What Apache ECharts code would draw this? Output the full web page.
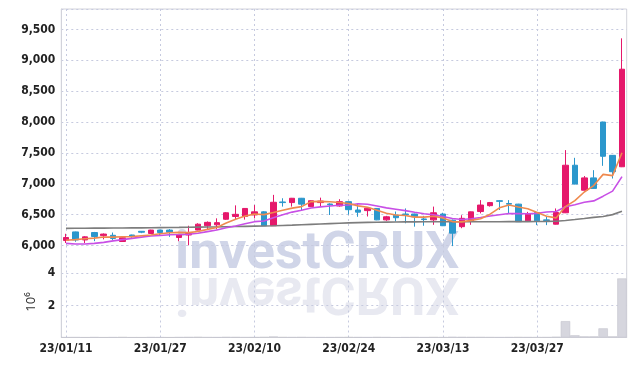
<!DOCTYPE html>
<html>
<head>
<meta charset="utf-8">
<script src="https://cdn.jsdelivr.net/npm/echarts@6/dist/echarts.min.js"></script>
<style>
html,body{margin:0;padding:0;background:#fff}
#chart{width:635px;height:366px}
</style>
</head>
<body>
<div id="chart"></div>
<script>
// trading days
var dates = ['23/01/11','23/01/12','23/01/13','23/01/16','23/01/17','23/01/18','23/01/19','23/01/20','23/01/25','23/01/26',
  '23/01/27','23/01/30','23/01/31','23/02/01','23/02/02','23/02/03','23/02/06','23/02/07','23/02/08','23/02/09',
  '23/02/10','23/02/13','23/02/14','23/02/15','23/02/16','23/02/17','23/02/20','23/02/21','23/02/22','23/02/23',
  '23/02/24','23/02/27','23/02/28','23/03/02','23/03/03','23/03/06','23/03/07','23/03/08','23/03/09','23/03/10',
  '23/03/13','23/03/14','23/03/15','23/03/16','23/03/17','23/03/20','23/03/21','23/03/22','23/03/23','23/03/24',
  '23/03/27','23/03/28','23/03/29','23/03/30','23/03/31','23/04/03','23/04/04','23/04/05','23/04/06','23/04/07'];

var opens = [6080,6220,6090,6210,6160,6165,6065,6170,6230,6195,
  6250,6250,6130,6170,6250,6320,6335,6425,6470,6470,
  6495,6545,6320,6705,6695,6765,6630,6695,6672,6640,
  6710,6575,6565,6600,6415,6490,6510,6510,6430,6415,
  6510,6410,6305,6390,6550,6645,6725,6680,6670,6400,
  6535,6415,6345,6530,7300,6895,7095,8000,7460,7275];
var closes = [6130,6090,6140,6145,6185,6115,6125,6145,6215,6250,
  6210,6215,6175,6195,6345,6375,6370,6530,6505,6600,
  6545,6320,6700,6695,6765,6670,6725,6720,6660,6710,
  6580,6540,6605,6415,6465,6450,6500,6465,6420,6530,
  6320,6200,6440,6545,6655,6695,6715,6670,6385,6508,
  6400,6405,6535,7300,6995,7095,6925,7445,7195,8855];
var lows = [6040,6060,6040,6070,6100,6090,6060,6125,6200,6190,
  6160,6140,6070,6005,6245,6260,6260,6415,6415,6420,
  6440,6320,6320,6630,6630,6565,6625,6630,6494,6630,
  6500,6465,6470,6410,6400,6390,6360,6305,6320,6335,
  6315,5990,6280,6335,6520,6630,6575,6520,6380,6395,
  6330,6330,6340,6525,6990,6890,6920,7290,7085,7270];
var highs = [6190,6225,6150,6220,6195,6210,6130,6175,6235,6255,
  6255,6265,6180,6320,6360,6390,6440,6540,6650,6605,
  6655,6555,6820,6765,6770,6770,6730,6775,6683,6750,
  6715,6680,6610,6605,6480,6550,6600,6515,6480,6630,
  6530,6420,6490,6550,6735,6705,6735,6735,6675,6545,
  6540,6465,6600,7545,7420,7125,7220,8005,7465,9355];

var ma5 = [6085,6095,6110,6120,6138,6135,6142,6143,6157,6170,
  6189,6207,6213,6209,6228,6261,6292,6363,6425,6476,
  6510,6500,6534,6572,6605,6630,6711,6715,6708,6697,
  6679,6642,6619,6570,6521,6495,6487,6459,6460,6473,
  6447,6387,6382,6407,6432,6507,6610,6656,6624,6595,
  6536,6474,6447,6630,6727,6866,6970,7152,7131,7503];
var ma10 = [6035,6025,6025,6035,6050,6075,6095,6115,6135,6154,
  6162,6175,6178,6183,6199,6225,6250,6288,6317,6352,
  6386,6396,6449,6499,6541,6570,6606,6625,6640,6651,
  6655,6677,6667,6639,6609,6587,6565,6539,6515,6497,
  6471,6437,6421,6434,6453,6477,6499,6519,6516,6513,
  6521,6542,6551,6627,6661,6701,6722,6799,6880,7115];
var ma60 = [6278,6279,6280,6281,6282,6283,6284,6285,6286,6288,
  6290,6292,6293,6295,6297,6299,6301,6304,6307,6310,
  6313,6316,6320,6325,6330,6336,6342,6348,6354,6360,
  6366,6370,6374,6377,6379,6381,6382,6383,6384,6384,
  6384,6384,6384,6384,6384,6385,6385,6386,6386,6387,
  6388,6390,6393,6405,6420,6437,6455,6470,6500,6553];

var volumes = [12000,18000,9000,15000,7000,11000,21000,8000,6000,14000,
  10000,9000,16000,25000,30000,18000,12000,27000,22000,19000,
  15000,28000,62000,20000,17000,24000,19000,13000,11000,16000,
  21000,14000,12000,23000,15000,9000,13000,17000,10000,20000,
  18000,35000,26000,22000,24000,16000,12000,14000,21000,15000,
  19000,17000,40000,1020000,140000,70000,70000,570000,70000,3680000];

var upColor = '#e5186b';
var downColor = '#2b97cc';
var gridColor = '#c6cadf';
var borderColor = '#d2d3db';
var labelFont = '"DejaVu Sans Condensed", sans-serif';

var candles = [];
for (var i = 0; i < dates.length; i++) {
  candles.push([opens[i], closes[i], lows[i], highs[i]]);
}

var chart = echarts.init(document.getElementById('chart'));

var labelStyle = {
  color: '#222',
  fontFamily: labelFont,
  fontWeight: 'bold',
  fontSize: 12
};

chart.setOption({
  animation: false,
  grid: [
    {left: 61.3, right: 8.3, top: 9, height: 236.5},
    {left: 61.3, right: 8.3, top: 245.5, height: 92},
    {left: 61.3, right: 8.3, top: 9, bottom: 28.5, show: true, borderColor: borderColor, borderWidth: 1, backgroundColor: 'transparent'}
  ],
  xAxis: [
    {
      type: 'category', gridIndex: 0, data: dates,
      axisLine: {show: false}, axisTick: {show: false}, axisLabel: {show: false},
      splitLine: {show: true, interval: 9, alignWithLabel: true, lineStyle: {color: gridColor, type: [2, 3]}}
    },
    {
      type: 'category', gridIndex: 1, data: dates,
      axisLine: {show: true, lineStyle: {color: borderColor}}, axisTick: {show: false},
      axisLabel: Object.assign({interval: 9, margin: 5}, labelStyle),
      splitLine: {show: true, interval: 9, alignWithLabel: true, lineStyle: {color: gridColor, type: [2, 3]}}
    }
  ],
  yAxis: [
    {
      type: 'value', gridIndex: 0, min: 6000, max: 9830, interval: 500,
      axisLine: {show: true, lineStyle: {color: borderColor}}, axisTick: {show: false},
      axisLabel: Object.assign({margin: 6, showMaxLabel: false, formatter: function (v) {
        return v.toLocaleString('en-US');
      }}, labelStyle),
      splitLine: {lineStyle: {color: gridColor, type: [2, 3]}}
    },
    {
      type: 'value', gridIndex: 1, min: 0, max: 5730000, interval: 2000000,
      axisLine: {show: true, lineStyle: {color: borderColor}}, axisTick: {show: false},
      axisLabel: Object.assign({margin: 6, formatter: function (v) {
        if (v === 0 || v > 4000001) return '';
        return String(v / 1000000);
      }}, labelStyle),
      splitLine: {lineStyle: {color: gridColor, type: [2, 3]}}
    }
  ],
  graphic: [
    {type: 'text', x: 175, y: 280.5, scaleX: 1.03, z: 0, silent: true,
      style: {text: 'investCRUX', font: 'bold 52px Roboto', fill: '#d0d5e8', align: 'left', verticalAlign: 'bottom'}},
    {type: 'text', x: 175, y: 264.5, scaleX: 1.03, scaleY: -1, z: 0, silent: true,
      style: {text: 'investCRUX', font: 'bold 52px Roboto', fill: '#e8e9f1', align: 'left', verticalAlign: 'bottom'}},
    {type: 'text', x: 31, y: 302, rotation: Math.PI / 2, silent: true,
      style: {text: '10\u2076', font: '13px "Noto Sans"', fill: '#333', align: 'center', verticalAlign: 'middle'}}
  ],
  series: [
    {
      name: 'candle', type: 'candlestick', xAxisIndex: 0, yAxisIndex: 0,
      data: candles, barWidth: 6,
      itemStyle: {color: upColor, color0: downColor, borderColor: upColor, borderColor0: downColor, borderWidth: 1}
    },
    {name: 'MA60', type: 'line', data: ma60, symbol: 'none', lineStyle: {color: '#7d7d7d', width: 1.6}},
    {name: 'MA10', type: 'line', data: ma10, symbol: 'none', lineStyle: {color: '#c84fe6', width: 1.6}},
    {name: 'MA5', type: 'line', data: ma5, symbol: 'none', lineStyle: {color: '#ef8a4f', width: 1.6}},
    {
      name: 'volume', type: 'bar', xAxisIndex: 1, yAxisIndex: 1, data: volumes,
      barCategoryGap: '0%',
      itemStyle: {color: '#d6d6de', borderColor: '#c4c4cc', borderWidth: 0.6}
    }
  ]
});
</script>
</body>
</html>
